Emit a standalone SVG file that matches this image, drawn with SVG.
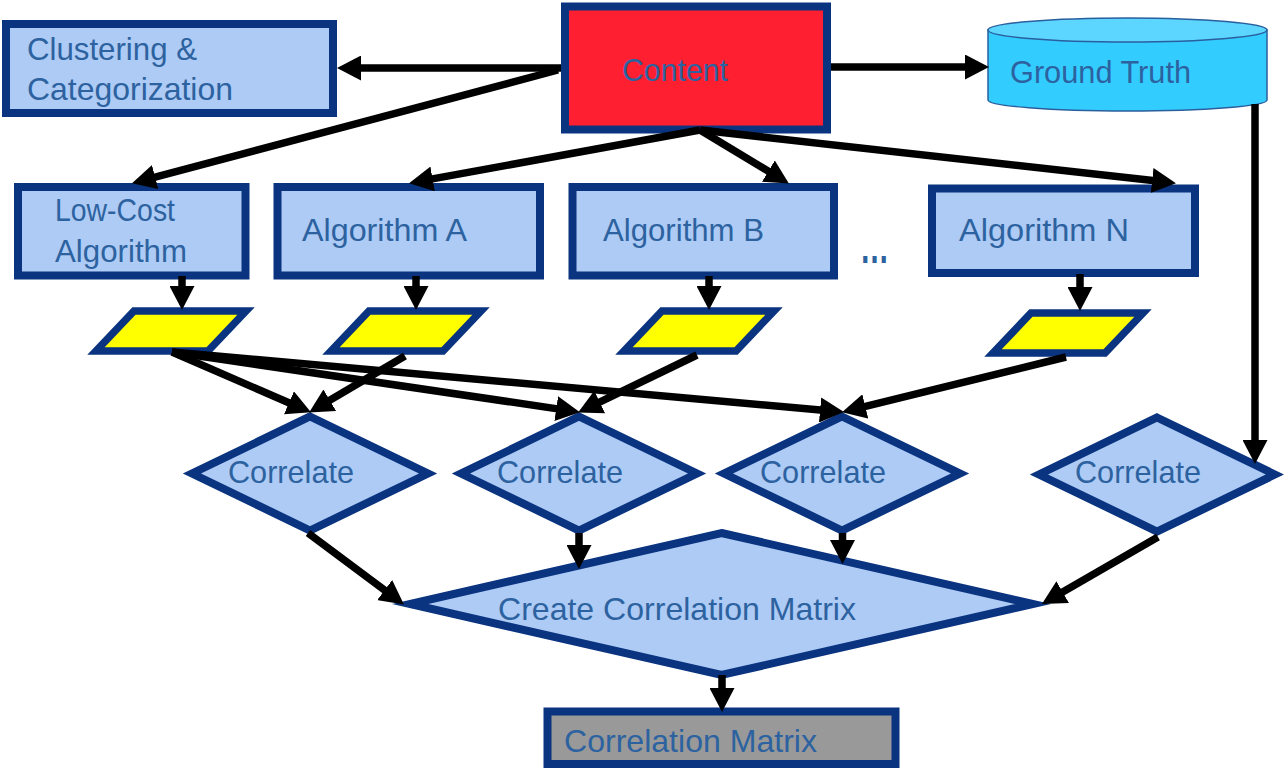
<svg xmlns="http://www.w3.org/2000/svg" width="1284" height="768" viewBox="0 0 1284 768">
  <defs>
    <marker id="head" markerUnits="userSpaceOnUse" markerWidth="24" markerHeight="25" refX="3" refY="12.5" orient="auto">
      <path d="M0,0 L24,12.5 L0,25 Z" fill="#000"/>
    </marker>
    <style>
      .box { fill: #ADCBF4; stroke: #0A3380; stroke-width: 8; stroke-miterlimit: 10; }
      .red { fill: #FE2030; }
      .grey { fill: #999999; }
      .data { fill: #FFFF00; stroke: #0A3380; stroke-width: 7.5; stroke-miterlimit: 10; }
      .cyl { fill: #33CCFF; stroke: #2A5F9E; stroke-width: 1.5; }
      .cyltop { fill: #5CD6FF; stroke: #2A5F9E; stroke-width: 1.5; }
      .lbl { font-family: "Liberation Sans", Arial, sans-serif; font-size: 32px; fill: #2D62A0; }
      .dots { font-family: "Liberation Sans", Arial, sans-serif; font-size: 46px; font-weight: bold; fill: #2D62A0; }
      .wire line { stroke: #000; stroke-width: 7.5; marker-end: url(#head); }
    </style>
  </defs>
  <rect width="1284" height="768" fill="#fff"/>

  <g id="clustering">
    <rect class="box" x="6" y="24" width="327" height="89"/>
    <text class="lbl" x="27" y="60" textLength="170" lengthAdjust="spacingAndGlyphs">Clustering &amp;</text>
    <text class="lbl" x="27" y="100" textLength="206" lengthAdjust="spacingAndGlyphs">Categorization</text>
  </g>

  <g id="content">
    <rect class="box red" x="565" y="6.5" width="262" height="123"/>
    <text class="lbl" x="622" y="81" textLength="106" lengthAdjust="spacingAndGlyphs">Content</text>
  </g>

  <g id="ground-truth">
    <path class="cyl" d="M988,30 L988,100 A139.5,11 0 0 0 1267,100 L1267,30 Z"/>
    <ellipse class="cyltop" cx="1127.5" cy="30" rx="139.5" ry="12"/>
    <text class="lbl" x="1010" y="83" textLength="181" lengthAdjust="spacingAndGlyphs">Ground Truth</text>
  </g>

  <g id="low-cost">
    <rect class="box" x="18" y="187" width="227.5" height="88.5"/>
    <text class="lbl" x="55" y="221" textLength="120" lengthAdjust="spacingAndGlyphs">Low-Cost</text>
    <text class="lbl" x="55" y="262" textLength="132" lengthAdjust="spacingAndGlyphs">Algorithm</text>
  </g>

  <g id="algorithm-a">
    <rect class="box" x="277.5" y="187" width="262.5" height="88.5"/>
    <text class="lbl" x="302" y="241" textLength="165" lengthAdjust="spacingAndGlyphs">Algorithm A</text>
  </g>

  <g id="algorithm-b">
    <rect class="box" x="572.5" y="187" width="261.5" height="88.5"/>
    <text class="lbl" x="603" y="241" textLength="161" lengthAdjust="spacingAndGlyphs">Algorithm B</text>
  </g>

  <g id="ellipsis">
    <text class="dots" x="860" y="263" textLength="29" lengthAdjust="spacingAndGlyphs">…</text>
  </g>

  <g id="algorithm-n">
    <rect class="box" x="932" y="188.5" width="263" height="84.5"/>
    <text class="lbl" x="959" y="241" textLength="170" lengthAdjust="spacingAndGlyphs">Algorithm N</text>
  </g>

  <g id="result-low-cost">
    <polygon class="data" points="134,311 246,311 208,351 96,351"/>
  </g>
  <g id="result-a">
    <polygon class="data" points="369,311 481,311 443,351 331,351"/>
  </g>
  <g id="result-b">
    <polygon class="data" points="662,311 774,311 736,351 624,351"/>
  </g>
  <g id="result-n">
    <polygon class="data" points="1031,313 1143,313 1105,353 993,353"/>
  </g>

  <g id="correlate-1">
    <polygon class="box" points="310,416.5 428,473.5 310,530.5 192,473.5"/>
    <text class="lbl" x="228" y="483" textLength="126" lengthAdjust="spacingAndGlyphs">Correlate</text>
  </g>
  <g id="correlate-2">
    <polygon class="box" points="579,416.5 697,473.5 579,530.5 461,473.5"/>
    <text class="lbl" x="497" y="483" textLength="126" lengthAdjust="spacingAndGlyphs">Correlate</text>
  </g>
  <g id="correlate-3">
    <polygon class="box" points="842,416.5 960,473.5 842,530.5 724,473.5"/>
    <text class="lbl" x="760" y="483" textLength="126" lengthAdjust="spacingAndGlyphs">Correlate</text>
  </g>
  <g id="correlate-4">
    <polygon class="box" points="1157,417.5 1275,474.5 1157,531.5 1039,474.5"/>
    <text class="lbl" x="1075" y="483" textLength="126" lengthAdjust="spacingAndGlyphs">Correlate</text>
  </g>

  <g id="create-matrix">
    <polygon class="box" points="721.5,533 1033,604 721.5,675 410,604"/>
    <text class="lbl" x="498" y="620" textLength="358" lengthAdjust="spacingAndGlyphs">Create Correlation Matrix</text>
  </g>

  <g id="correlation-matrix">
    <rect class="box grey" x="547.5" y="711.5" width="348" height="52.5"/>
    <text class="lbl" x="564" y="752" textLength="253" lengthAdjust="spacingAndGlyphs">Correlation Matrix</text>
  </g>

  <g id="connectors" class="wire">
    <!-- from Content -->
    <line x1="561" y1="68" x2="358" y2="68"/>
    <line x1="831" y1="67" x2="968" y2="67"/>
    <line x1="558" y1="70" x2="152.3" y2="177.9"/>
    <line x1="700" y1="130" x2="429.7" y2="179.4"/>
    <line x1="700" y1="130" x2="770.9" y2="172.7"/>
    <line x1="700" y1="130" x2="1155.1" y2="180.8"/>
    <!-- Ground Truth down to the last correlation -->
    <line x1="1255" y1="104" x2="1255" y2="443"/>
    <!-- algorithms to their results -->
    <line x1="182" y1="276" x2="182" y2="289"/>
    <line x1="416" y1="276" x2="416" y2="289"/>
    <line x1="709" y1="276" x2="709" y2="289"/>
    <line x1="1080" y1="274" x2="1080" y2="290"/>
    <!-- results to correlations -->
    <line x1="172" y1="352" x2="291.7" y2="404"/>
    <line x1="172" y1="352" x2="559.2" y2="409.1"/>
    <line x1="172" y1="352" x2="823.1" y2="410.2"/>
    <line x1="405" y1="356" x2="327.2" y2="401.8"/>
    <line x1="697" y1="355" x2="597" y2="403.3"/>
    <line x1="1066" y1="357" x2="862.4" y2="407.2"/>
    <!-- correlations into the matrix step -->
    <line x1="308" y1="533" x2="387.1" y2="591.9"/>
    <line x1="579" y1="533" x2="579" y2="548"/>
    <line x1="842.5" y1="533" x2="842.5" y2="543"/>
    <line x1="1158" y1="537" x2="1060.1" y2="593.6"/>
    <!-- matrix step to the output -->
    <line x1="722" y1="675" x2="722" y2="691"/>
  </g>
</svg>
